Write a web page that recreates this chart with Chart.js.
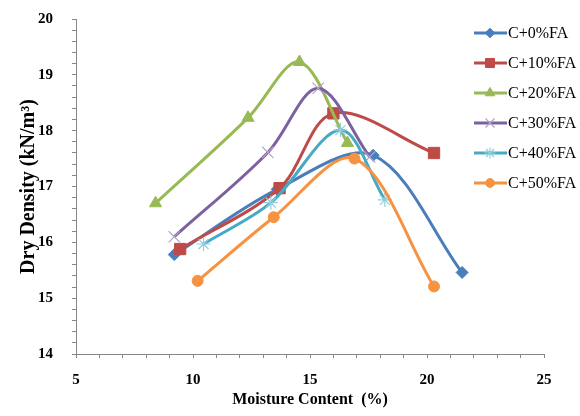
<!DOCTYPE html>
<html>
<head>
<meta charset="utf-8">
<script src="https://cdn.jsdelivr.net/npm/chart.js@4.4.0/dist/chart.umd.min.js"></script>
<style>
  html, body { margin: 0; padding: 0; background: #fff; }
  #wrap { width: 580px; height: 416px; }
</style>
</head>
<body>
<div id="wrap"><canvas id="chart" width="580" height="416"></canvas></div>
<script>
// series names
const seriesNames = ['C+0%FA', 'C+10%FA', 'C+20%FA', 'C+30%FA', 'C+40%FA', 'C+50%FA'];

// moisture content (%) and dry density (kN/m3)
const mc0 = [9.2, 13.6, 17.7, 21.5];
const dd0 = [15.78, 16.95, 17.56, 15.46];
const mc10 = [9.45, 13.7, 16.0, 20.3];
const dd10 = [15.88, 16.97, 18.31, 17.6];
const mc20 = [8.4, 12.35, 14.55, 16.6];
const dd20 = [16.7, 18.23, 19.23, 17.78];
const mc30 = [9.2, 13.2, 15.35, 17.55];
const dd30 = [16.1, 17.61, 18.76, 17.53];
const mc40 = [10.45, 13.33, 16.3, 18.2];
const dd40 = [15.97, 16.71, 18.01, 16.76];
const mc50 = [10.2, 13.45, 16.9, 20.3];
const dd50 = [15.31, 16.45, 17.5, 15.21];

// axis ticks that get a label
const xTickLabels = [5, 10, 15, 20, 25];
const yTickLabels = [14, 15, 16, 17, 18, 19, 20];

const allMc = [mc0, mc10, mc20, mc30, mc40, mc50];
const allDd = [dd0, dd10, dd20, dd30, dd40, dd50];

const lineColors = ['#4A7EBB', '#BE4B48', '#98B954', '#7D60A0', '#46AAC5', '#F69240'];
const markerStyles = [
    { style: 'rectRot', radius: 6, fill: '#4A7EBB', stroke: '#4A7EBB', width: 1 },
    { style: 'rect', radius: 8, fill: '#BE4B48', stroke: '#BE4B48', width: 1 },
    { style: 'triangle', radius: 7, fill: '#98B954', stroke: '#98B954', width: 1 },
    { style: 'crossRot', radius: 8, fill: '#B3A2C7', stroke: '#B3A2C7', width: 1.2 },
    { style: 'star', radius: 7, fill: '#93CDDD', stroke: '#93CDDD', width: 1.2 },
    { style: 'circle', radius: 5.5, fill: '#F69240', stroke: '#F69240', width: 1 }
];

function toPoints(xs, ys) {
    return xs.map((x, i) => ({ x: x, y: ys[i] }));
}

const datasets = seriesNames.map((name, i) => ({
    label: name,
    data: toPoints(allMc[i], allDd[i]),
    borderColor: lineColors[i],
    borderWidth: 3,
    tension: 0.33,
    fill: false,
    pointStyle: markerStyles[i].style,
    pointRadius: markerStyles[i].radius,
    pointBackgroundColor: markerStyles[i].fill,
    pointBorderColor: markerStyles[i].stroke,
    pointBorderWidth: markerStyles[i].width,
    order: -i
}));

const serif = "'Liberation Serif', 'Times New Roman', serif";

// legend drawn at the top right, over the plot
const sideLegend = {
    id: 'sideLegend',
    afterDraw(chart) {
        const ctx = chart.ctx;
        ctx.save();
        chart.data.datasets.forEach((ds, i) => {
            const y = 33 + i * 30;
            ctx.strokeStyle = ds.borderColor;
            ctx.lineWidth = 3;
            ctx.beginPath();
            ctx.moveTo(474, y);
            ctx.lineTo(507, y);
            ctx.stroke();
            if (Chart.helpers && Chart.helpers.drawPoint) {
                ctx.fillStyle = ds.pointBackgroundColor;
                ctx.strokeStyle = ds.pointBorderColor;
                ctx.lineWidth = ds.pointBorderWidth;
                Chart.helpers.drawPoint(ctx, {
                    pointStyle: ds.pointStyle,
                    radius: ds.pointRadius * 0.8,
                    rotation: 0,
                    borderWidth: ds.pointBorderWidth
                }, 490, y);
            }
            ctx.fillStyle = '#000';
            ctx.font = '16px ' + serif;
            ctx.textBaseline = 'middle';
            ctx.textAlign = 'left';
            ctx.fillText(ds.label, 508, y + 1);
        });
        ctx.restore();
    }
};

new Chart(document.getElementById('chart'), {
    type: 'line',
    data: { datasets: datasets },
    plugins: [sideLegend],
    options: {
        responsive: false,
        animation: false,
        layout: { padding: { left: 0, right: 36, top: 19, bottom: 0 } },
        plugins: {
            legend: { display: false },
            tooltip: { enabled: false }
        },
        scales: {
            x: {
                type: 'linear',
                min: 5,
                max: 25,
                afterFit: scale => { scale.height = 62; },
                ticks: {
                    stepSize: 1,
                    padding: 13,
                    autoSkip: false,
                    maxRotation: 0,
                    color: '#000',
                    font: { family: serif, size: 15, weight: 'bold' },
                    callback: v => xTickLabels.includes(Math.round(v)) && Math.abs(v - Math.round(v)) < 1e-6 ? String(Math.round(v)) : ''
                },
                grid: { drawOnChartArea: false, drawTicks: true, tickLength: 4, color: '#868686' },
                border: { color: '#868686', width: 1 },
                title: {
                    display: true,
                    text: 'Moisture Content  (%)',
                    color: '#000',
                    font: { family: serif, size: 16, weight: 'bold' },
                    padding: { top: 0, bottom: 7 }
                }
            },
            y: {
                type: 'linear',
                min: 14,
                max: 20,
                afterFit: scale => {
                    scale.width = 76;
                    // label padding is horizontal here; keep it out of the top/bottom space
                    scale.paddingTop = 0;
                    scale.paddingBottom = 0;
                },
                ticks: {
                    stepSize: 0.2,
                    padding: 19,
                    autoSkip: false,
                    color: '#000',
                    font: { family: serif, size: 15, weight: 'bold' },
                    callback: v => yTickLabels.includes(Math.round(v)) && Math.abs(v - Math.round(v)) < 1e-6 ? String(Math.round(v)) : ''
                },
                grid: { drawOnChartArea: false, drawTicks: true, tickLength: 4, color: '#868686' },
                border: { color: '#868686', width: 1 },
                title: {
                    display: true,
                    text: 'Dry Density (kN/m³)',
                    color: '#000',
                    font: { family: serif, size: 20, weight: 'bold' },
                    padding: { top: 17, bottom: 0 }
                }
            }
        }
    }
});
</script>
</body>
</html>
